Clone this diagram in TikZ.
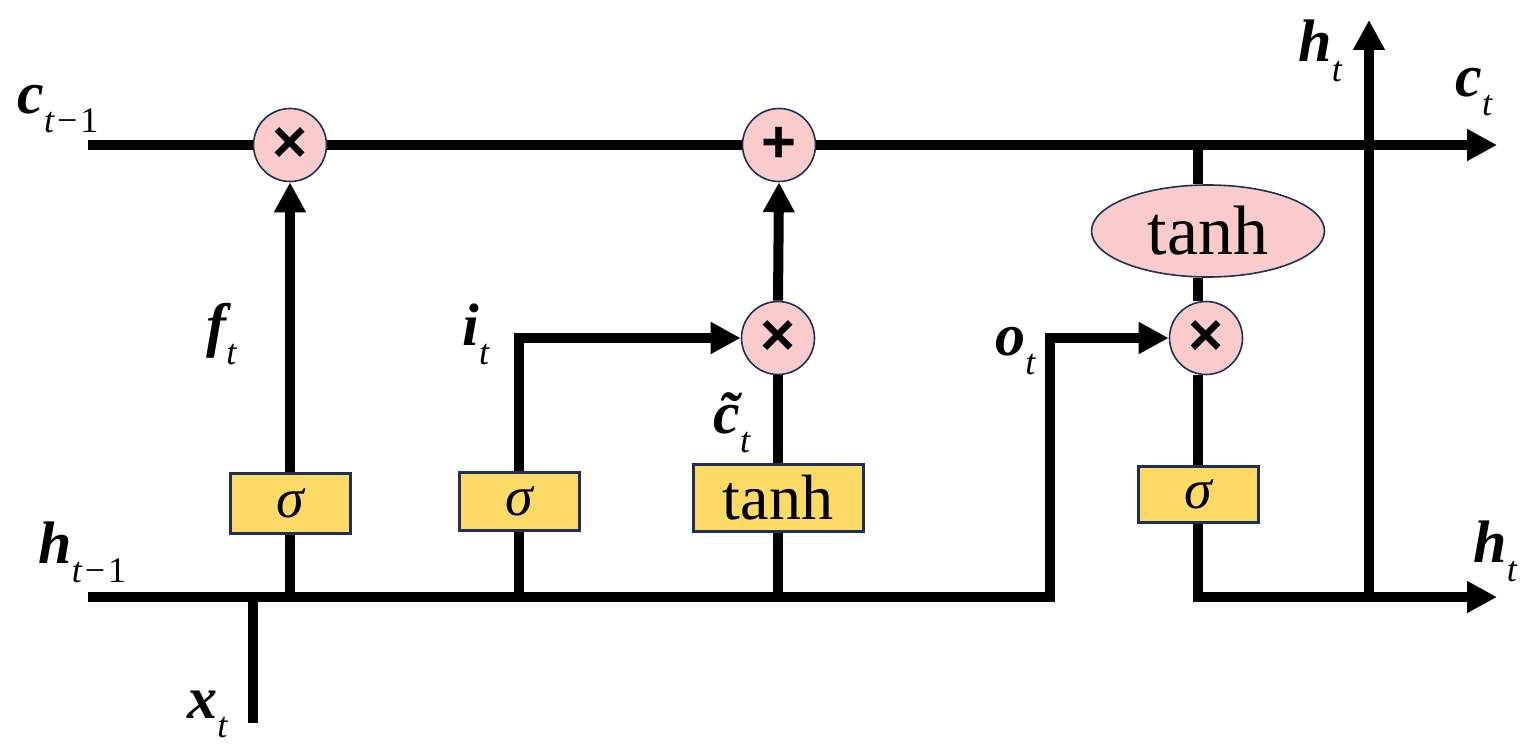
\documentclass[tikz,border=0pt]{standalone}
\usepackage{fontspec}
\setmainfont{Liberation Serif}
\newfontfamily\sansf{Liberation Sans}
\usetikzlibrary{arrows.meta,shapes.geometric}
\definecolor{pinkf}{HTML}{F9CBCB}
\definecolor{yelf}{HTML}{FDD966}
\definecolor{navy}{HTML}{1F3058}
\newcommand\vlab[2]{{\fontsize{30}{36}\selectfont\bfseries\itshape #1}{\fontsize{18}{20}\selectfont\mdseries\raisebox{-9.5pt}{#2}}}
\newcommand\tsub{\itshape t}
\newcommand\tmone{\itshape t\kern1.5pt\upshape −\kern1.5pt1}
\begin{document}
\begin{tikzpicture}[x=0.5pt,y=-0.5pt,
  wire/.style={line width=5pt},
  arr/.style={line width=5pt,-{Triangle[length=15pt,width=15pt]}},
  opc/.style={circle,draw=navy,line width=0.8pt,fill=pinkf,minimum size=36.5pt,inner sep=0pt,font=\sansf\bfseries\fontsize{30}{32}\selectfont},
  gate/.style={rectangle,draw=navy,line width=1.5pt,fill=yelf,inner sep=0pt},
  sig/.style={gate,minimum width=60pt,font=\fontsize{28}{30}\selectfont\itshape},
  lab/.style={anchor=base west,inner sep=0pt}]
\useasboundingbox (0,0) rectangle (1529,749);
% operation nodes
\node[opc] (fx) at (290,145) {×};
\node[opc] (add) at (779,145) {+};
\node[opc] (ix) at (778,338) {×};
\node[opc] (ox) at (1206,338) {×};
\node[ellipse,draw=navy,line width=0.8pt,fill=pinkf,minimum width=116.5pt,minimum height=46pt,inner sep=0pt,font=\fontsize{35}{40}\selectfont] (th) at (1208,231) {tanh};
% gate boxes
\node[sig,minimum height=30pt] (fs) at (290,503) {σ};
\node[sig,minimum height=29pt] (is) at (519,501) {σ};
\node[gate,minimum width=85pt,minimum height=33.5pt,font=\fontsize{32}{36}\selectfont] (gt) at (778,498) {tanh};
\node[sig,minimum height=28pt] (os) at (1198,494) {σ};
% coordinates
\coordinate (cin) at (88,145);
\coordinate (cout) at (1497,145);
\coordinate (hin) at (88,597);
\coordinate (oup) at (1050,597);
\coordinate (hout) at (1497,597);
\coordinate (xin) at (253,723);
\coordinate (xj) at (253,597);
\coordinate (fj) at (290,597);
\coordinate (ij) at (519,597);
\coordinate (gj) at (778,597);
\coordinate (ctap) at (1198,145);
\coordinate (hb) at (1369,597);
\coordinate (ht) at (1369,20);
% wires
\draw[wire] (cin) -- (fx.west) (fx.east) -- (add.west);
\draw[arr] (add.east) -- (cout);
\draw[arr] (hin) -- (oup) |- (ox.west);
\draw[wire] (xin) -- (xj);
\draw[wire] (fj) -- (fs.south);
\draw[arr] (fs.north) -- (fx.south);
\draw[wire] (ij) -- (is.south);
\draw[arr] (is.north) |- (ix.west);
\draw[wire] (gj) -- (gt.south);
\draw[wire] (gt.north) -- (ix.south);
\draw[arr] (ix.north) -- (add.south);
\draw[wire] (ctap) -- (ctap |- th.north);
\draw[wire] (os.north |- th.south) -- (os.north |- ox.north);
\draw[wire] (os.north |- ox.south) -- (os.north);
\draw[arr] (os.south) |- (hout);
\draw[arr] (hb) -- (ht);
% labels
\node[lab] (lc0) at (17,113) {\vlab{c}{\tmone}};
\node[lab] (lh0) at (38,563) {\vlab{h}{\tmone}};
\node[lab] (lx) at (187,718) {\vlab{x}{\tsub}};
\node[lab] (lf) at (206,345) {\vlab{f}{\tsub}};
\node[lab] (li) at (462,345) {\vlab{i}{\tsub}};
\node[lab] (lg) at (713,433) {\vlab{\~{c}}{\tsub}};
\node[lab] (lo) at (995,355) {\vlab{o}{\tsub}};
\node[lab] (lht) at (1298,62) {\vlab{h}{\tsub}};
\node[lab] (lct) at (1455,97) {\vlab{c}{\tsub}};
\node[lab] (lhb) at (1473,562) {\vlab{h}{\tsub}};
\end{tikzpicture}
\end{document}
